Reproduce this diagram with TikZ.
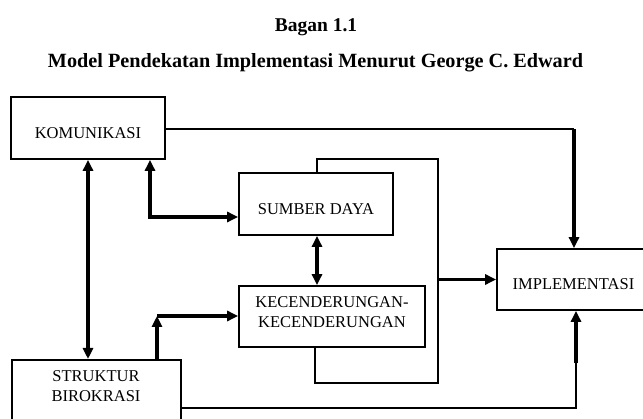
\documentclass[tikz,border=0pt]{standalone}
\usepackage{fontspec}
\setmainfont{Liberation Serif}
\usetikzlibrary{arrows.meta}
\begin{document}
\begin{tikzpicture}[x=1pt,y=-1pt,
  box/.style={draw, line width=1.7pt, inner sep=0pt, align=center,
    font=\fontsize{16.5}{20}\selectfont},
  onebox/.style={box, text height=21pt, text depth=0pt},
  thinline/.style={line width=1.7pt},
  midline/.style={line width=2.2pt},
  thickline/.style={line width=3.2pt},
  tip/.style={-{Triangle[length=11pt,width=10pt]}},
  bitip/.style={{Triangle[length=11pt,width=10pt]}-{Triangle[length=11pt,width=10pt]}},
  titlefont/.style={font=\fontsize{19.5}{24}\selectfont\bfseries}
]
\useasboundingbox (0,0) rectangle (643,419);
\clip (0,0) rectangle (643,419);
\fill[white] (0,0) rectangle (643,419);

% titles
\node[titlefont, anchor=base] (t1) at (316,32) {Bagan 1.1};
\node[titlefont, anchor=base] (t2) at (315.5,68) {\resizebox{535pt}{!}{Model Pendekatan Implementasi Menurut George C. Edward}};

% boxes
\node[onebox, minimum width=154pt, minimum height=62pt] (k) at (88,128) {KOMUNIKASI};
\node[onebox, minimum width=154pt, minimum height=62pt] (sd) at (316,204) {SUMBER DAYA};
\node[box, minimum width=186pt, minimum height=61pt] (kc) at (332,316.5) {};
\node[box, draw=none, anchor=base] (kct) at (332,328) {KECENDERUNGAN-\\KECENDERUNGAN};
\node[onebox, minimum width=153pt, minimum height=61pt] (imp) at (573.5,279.5) {IMPLEMENTASI};
\node[box, minimum width=169pt, minimum height=72pt, anchor=north west] (s) at (11,359) {};
\node[box, draw=none, anchor=base] (st) at (96,402) {STRUKTUR\\BIROKRASI};

% coordinates
\coordinate (c1) at (574,129);
\coordinate (c2) at (150,217);
\coordinate (c3) at (157,316);
\coordinate (c4) at (576,408);
\coordinate (c5) at (576,363);
\coordinate (l1) at (317,159);
\coordinate (l2) at (438,159);
\coordinate (l3) at (438,383);
\coordinate (l4) at (315,383);

% komunikasi -> implementasi
\draw[thinline] (k.east |- c1) -- (c1);
\draw[thickline, tip] (c1) -- (c1 |- imp.north);

% komunikasi <-> struktur
\draw[thickline, bitip] (k.south) -- (k.south |- s.north);

% komunikasi <-> sumber daya
\draw[thickline, bitip] (c2 |- k.south) -- (c2) -- (c2 -| sd.west);

% sumber daya <-> kecenderungan
\draw[thickline, bitip] (sd.south -| l1) -- (l1 |- kc.north);

% loop around
\draw[thinline] (l1 |- sd.north) -- (l1) -- (l2) -- (l3) -- (l4) -- (l4 |- kc.south);
\draw[thickline, tip] (l2 |- imp.west) -- (imp.west);

% struktur -> kecenderungan
\draw[thickline, tip] (c3 |- s.north) -- (c3);
\draw[thickline, tip] (c3) -- (c3 -| kc.west);

% struktur -> implementasi
\draw[midline] (c4 -| s.east) -- (c4) -- (c5);
\draw[thickline, tip] (c5) -- (c5 |- imp.south);
\end{tikzpicture}
\end{document}
